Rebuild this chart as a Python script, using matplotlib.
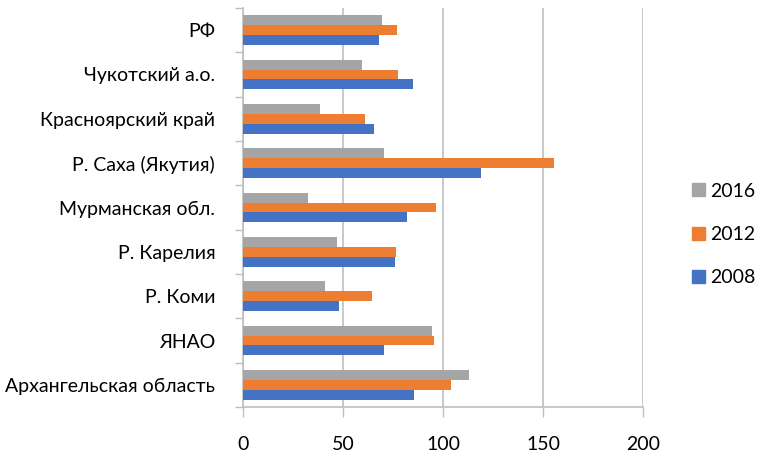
import matplotlib
matplotlib.use("Agg")
import matplotlib.pyplot as plt
import numpy as np
from matplotlib.patches import Patch

plt.rcParams['font.family'] = ['Lato', 'DejaVu Sans']

categories = ["Архангельская область", "ЯНАО", "Р. Коми", "Р. Карелия",
              "Мурманская обл.", "Р. Саха (Якутия)", "Красноярский край",
              "Чукотский а.о.", "РФ"]
v2008 = [85.7, 70.7, 47.8, 76.2, 82.0, 119.2, 65.7, 84.8, 68.0]
v2012 = [104.2, 95.7, 64.5, 76.5, 96.3, 155.3, 61.0, 77.3, 77.0]
v2016 = [113.0, 94.5, 40.8, 46.8, 32.5, 70.7, 38.5, 59.3, 69.3]
series_labels = ["2016", "2012", "2008"]
x_ticks = [0, 50, 100, 150, 200]

c2008 = "#4472c4"
c2012 = "#ed7d31"
c2016 = "#a5a5a5"
grid_c = "#bfbfbf"

fig = plt.figure(figsize=(7.6, 4.59), dpi=100)
ax = fig.add_axes([243 / 760, 1 - 407 / 459, 400 / 760, 399 / 459])

y = np.arange(len(categories))
h = 0.225
ax.barh(y - h, v2008, height=h, color=c2008, zorder=3)
ax.barh(y, v2012, height=h, color=c2012, zorder=3)
ax.barh(y + h, v2016, height=h, color=c2016, zorder=3)

ax.set_xlim(0, 200)
ax.set_ylim(-0.5, len(categories) - 0.5)
ax.set_xticks(x_ticks)
ax.set_xticklabels([str(t) for t in x_ticks], fontsize=14, color="#000000")
ax.tick_params(axis="x", length=7, width=1, color=grid_c, pad=14)
ax.xaxis.grid(True, color=grid_c, linewidth=1.2, zorder=0)

ax.set_yticks(y)
ax.set_yticklabels(categories, fontsize=14, color="#000000")
ax.tick_params(axis="y", length=0, pad=20)
ax.set_yticks(np.arange(-0.5, len(categories), 1.0), minor=True)
ax.tick_params(axis="y", which="minor", length=6, width=1, color=grid_c)

for side in ["top", "right"]:
    ax.spines[side].set_visible(False)
for side in ["left", "bottom"]:
    ax.spines[side].set_color(grid_c)
    ax.spines[side].set_linewidth(1.2)

handles = [Patch(color=c2016), Patch(color=c2012), Patch(color=c2008)]
fig.legend(handles, series_labels, loc="center left",
           bbox_to_anchor=(692 / 760, 1 - 234.5 / 459), frameon=False,
           fontsize=14, handlelength=0.65, handleheight=0.65,
           handletextpad=0.3, labelspacing=1.35,
           borderpad=0, borderaxespad=0)

fig.savefig("out.png", dpi=100)
